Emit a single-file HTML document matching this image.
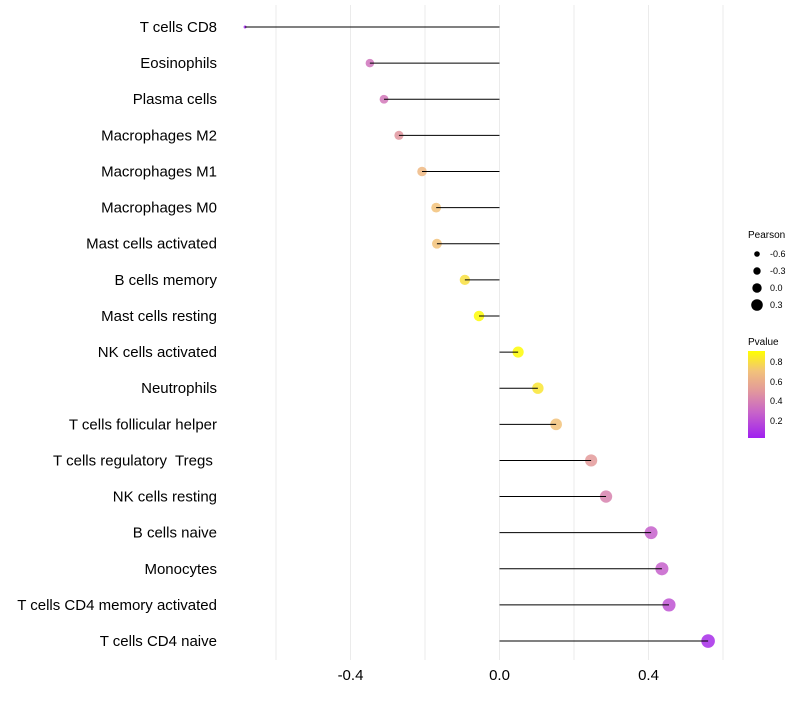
<!DOCTYPE html>
<html><head><meta charset="utf-8"><style>
body{margin:0;background:#fff;font-family:"Liberation Sans",sans-serif}
text{white-space:pre}
</style></head><body>
<svg id="chart" width="800" height="700">
<defs>
<linearGradient id="pg" x1="0" y1="1" x2="0" y2="0">
<stop offset="0" stop-color="#a020f0"/><stop offset="0.3" stop-color="#c865c8"/><stop offset="0.55" stop-color="#e39a9a"/><stop offset="0.77" stop-color="#f2c27a"/><stop offset="1" stop-color="#ffff00"/>
</linearGradient>
</defs>
<g id="grid"></g><g id="marks"></g><g id="labels"></g>
<g font-size="9" fill="#000">
<text x="748" y="238" font-size="10">Pearson</text>
<circle cx="757" cy="254" r="2.8"/><text x="770" y="257">-0.6</text>
<circle cx="757" cy="271" r="3.7"/><text x="770" y="274">-0.3</text>
<circle cx="757" cy="288" r="4.7"/><text x="770" y="291">0.0</text>
<circle cx="757" cy="305" r="5.8"/><text x="770" y="308">0.3</text>
<text x="748" y="345" font-size="10">Pvalue</text>
<rect x="748" y="351" width="17" height="87" fill="url(#pg)"/>
<text x="770" y="365">0.8</text><text x="770" y="385">0.6</text><text x="770" y="404">0.4</text><text x="770" y="424">0.2</text>
</g>
</svg>
<script>
const categories=["T cells CD8","Eosinophils","Plasma cells","Macrophages M2","Macrophages M1","Macrophages M0","Mast cells activated","B cells memory","Mast cells resting","NK cells activated","Neutrophils","T cells follicular helper","T cells regulatory  Tregs ","NK cells resting","B cells naive","Monocytes","T cells CD4 memory activated","T cells CD4 naive"];
const pearson=[-0.683,-0.348,-0.31,-0.27,-0.208,-0.17,-0.168,-0.093,-0.055,0.05,0.103,0.152,0.246,0.286,0.407,0.436,0.455,0.56];
const pvalue=[0.01,0.33,0.35,0.48,0.65,0.7,0.7,0.8,0.9,0.9,0.82,0.7,0.5,0.4,0.25,0.25,0.2,0.05];
const xTicks=[-0.4,0.0,0.4];
const xGrid=[-0.6,-0.4,-0.2,0,0.2,0.4,0.6];
const NS="http://www.w3.org/2000/svg";
const xs=v=>499.5+v*372.5;
const ys=i=>27+i*36.12;
const pmin=Math.min(...pearson),pmax=Math.max(...pearson);
const rs=v=>1.5+5.3*Math.sqrt((v-pmin)/(pmax-pmin));
const stops=[[0,[160,32,240]],[0.27,[200,101,200]],[0.5,[227,154,154]],[0.7,[242,194,122]],[0.91,[255,255,0]]];
function col(p){p=Math.max(0,Math.min(0.91,p));for(let k=0;k<stops.length-1;k++){const [a,ca]=stops[k],[b,cb]=stops[k+1];if(p<=b){const t=(p-a)/(b-a);return `rgb(${ca.map((c,j)=>Math.round(c+(cb[j]-c)*t)).join(',')})`;}}return 'rgb(255,255,0)';}
function mk(t,a,p){const e=document.createElementNS(NS,t);for(const k in a)e.setAttribute(k,a[k]);p.appendChild(e);return e;}
const grid=document.getElementById('grid'),marks=document.getElementById('marks'),labels=document.getElementById('labels');
xGrid.forEach(v=>{const l=mk('line',{x1:xs(v),x2:xs(v),y1:5,y2:660,stroke:'#ebebeb','stroke-width':1},grid);

});
categories.forEach((c,i)=>{const y=ys(i);
const t=mk('text',{x:217,y:y+5,'text-anchor':'end','font-size':15,fill:'#000'},labels);t.textContent=c;


const d=mk('circle',{cx:xs(pearson[i]),cy:y,r:rs(pearson[i]),fill:col(pvalue[i]),'fill-opacity':0.85},marks);


const s=mk('line',{x1:xs(0),x2:xs(pearson[i]),y1:y,y2:y,stroke:'#000','stroke-width':1},marks);

});
xTicks.forEach(v=>{const t=mk('text',{x:xs(v),y:680,'text-anchor':'middle','font-size':15,fill:'#000'},labels);t.textContent=v.toFixed(1);

});
</script>
</body></html>
